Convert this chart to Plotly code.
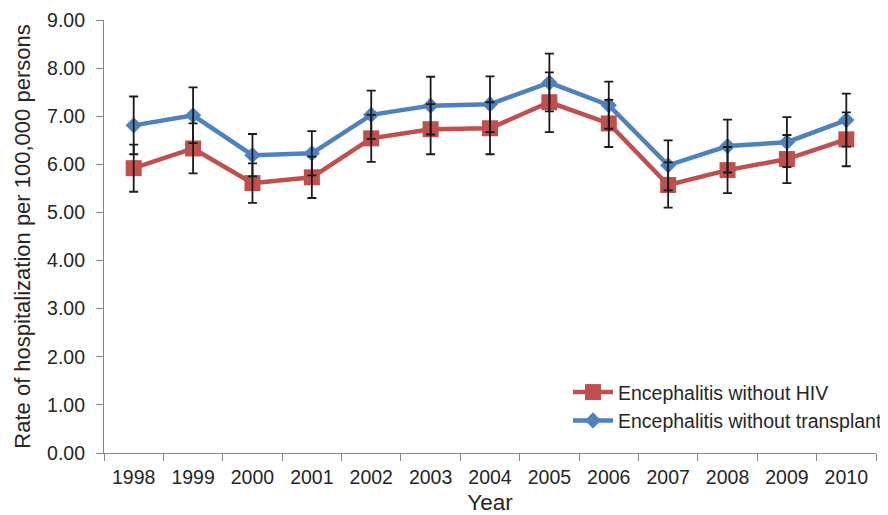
import plotly.graph_objects as go

years = ["1998", "1999", "2000", "2001", "2002", "2003", "2004",
         "2005", "2006", "2007", "2008", "2009", "2010"]
hiv = [5.92, 6.33, 5.61, 5.73, 6.54, 6.73, 6.75, 7.29, 6.85, 5.57, 5.88, 6.11, 6.52]
hiv_err = [0.49, 0.52, 0.41, 0.43, 0.49, 0.52, 0.54, 0.62, 0.49, 0.47, 0.48, 0.50, 0.56]
transplant = [6.81, 7.02, 6.19, 6.23, 7.03, 7.22, 7.25, 7.70, 7.23, 5.98, 6.38, 6.46, 6.92]
transplant_err = [0.60, 0.58, 0.44, 0.46, 0.50, 0.60, 0.58, 0.60, 0.49, 0.52, 0.55, 0.52, 0.55]

RED = "#C0504D"
BLUE = "#4F81BD"

fig = go.Figure()
fig.add_trace(go.Scatter(
    x=years, y=hiv, mode="lines+markers", name="Encephalitis without HIV",
    line=dict(color=RED, width=4.5),
    marker=dict(symbol="square", size=16, color=RED),
))
fig.add_trace(go.Scatter(
    x=years, y=transplant, mode="lines+markers", name="Encephalitis without transplant",
    line=dict(color=BLUE, width=4.5),
    marker=dict(symbol="diamond", size=12.5, color=BLUE),
))
# error bars drawn on top
for vals, errs in ((hiv, hiv_err), (transplant, transplant_err)):
    fig.add_trace(go.Scatter(
        x=years, y=vals, mode="markers", showlegend=False, hoverinfo="skip",
        marker=dict(size=1, opacity=0),
        error_y=dict(type="data", array=errs, visible=True, color="#1a1a1a",
                     thickness=1.8, width=4.5),
    ))

fig.update_layout(
    width=880, height=507,
    margin=dict(l=96, r=1, t=10, b=62),
    paper_bgcolor="white", plot_bgcolor="white",
    font=dict(family="Liberation Sans, Arial, sans-serif", size=19.5, color="#262626"),
    showlegend=True,
    legend=dict(x=0.601, y=0.185, xanchor="left", yanchor="top",
                bgcolor="rgba(0,0,0,0)", font=dict(size=19.5), itemwidth=40,
                tracegroupgap=0),
    xaxis=dict(
        type="category", range=[-0.5, 12.5],
        showline=True, linecolor="#868686", linewidth=1.2,
        ticks="outside", tickson="boundaries", ticklen=7, tickcolor="#868686",
        ticklabelstandoff=6, ticklabeloverflow="allow",
        showgrid=False, zeroline=False,
        title=dict(text="Year", font=dict(size=22.5), standoff=9),
        tickfont=dict(size=19.5),
    ),
    yaxis=dict(
        range=[0, 9], dtick=1, tickformat=".2f",
        showline=True, linecolor="#868686", linewidth=1.2,
        ticks="outside", ticklen=7, tickcolor="#868686",
        ticklabelstandoff=7, ticklabeloverflow="allow",
        showgrid=False, zeroline=False,
        title=dict(text="Rate of hospitalization per 100,000 persons", font=dict(size=22), standoff=10),
        tickfont=dict(size=19.5),
    ),
)

fig.write_html("out.html")
